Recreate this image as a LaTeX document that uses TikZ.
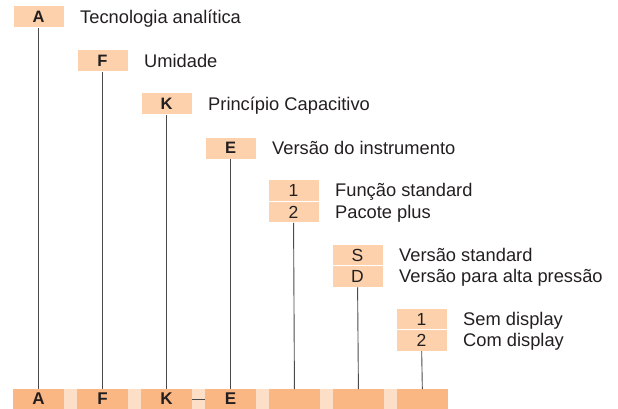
\documentclass[tikz,border=0pt]{standalone}
\usepackage{fontspec}
\setmainfont{Liberation Sans}
\usetikzlibrary{positioning,backgrounds}
\definecolor{peach}{HTML}{FDD1AC}
\definecolor{peachdark}{HTML}{FAB784}
\definecolor{peachgap}{HTML}{FDDFC8}
\definecolor{stem}{HTML}{4A4A4A}
\definecolor{ink}{HTML}{231F20}

\begin{document}
\begin{tikzpicture}[
    x=1pt,y=-1pt,node distance=16pt,
    codebox/.style={rectangle,fill=peach,draw=white,line width=1pt,outer sep=0pt,
      inner sep=0pt,minimum width=51pt,minimum height=22pt,text=ink,
      font=\fontsize{16.5}{18}\selectfont\bfseries},
    optbox/.style={codebox,minimum height=21.5pt,font=\fontsize{17.5}{18}\selectfont},
    slotbox/.style={codebox,draw=none,fill=peachdark,minimum height=20pt,
      font=\fontsize{17}{18}\selectfont\bfseries},
    lbl/.style={anchor=west,inner sep=0pt,text=ink,text height=12.6pt,text depth=0pt,
      font=\fontsize{18.3}{20}\selectfont},
    link/.style={draw=stem,line width=0.9pt}]
    \useasboundingbox (0,0) rectangle (618,409);

    % code letters
    \node[codebox] (A) at (38.5,17) {A};
    \node[lbl] (lA) [right=of A] {Tecnologia analítica};
    \node[codebox] (F) at (102.5,61) {F};
    \node[lbl] (lF) [right=of F] {Umidade};
    \node[codebox] (K) at (166.5,104) {K};
    \node[lbl] (lK) [right=of K] {Princípio Capacitivo};
    \node[codebox] (E) at (230.5,148) {E};
    \node[lbl] (lE) [right=of E] {Versão do instrumento};

    % options
    \node[optbox] (P1) at (293.5,190.5) {1};
    \node[optbox] (P2) [below=0pt of P1] {2};
    \node[lbl] (lP1) [right=of P1] {Função standard};
    \node[lbl] (lP2) [right=of P2] {Pacote plus};
    \node[optbox] (VS) at (357.5,255) {S};
    \node[optbox] (VD) [below=0pt of VS] {D};
    \node[lbl] (lVS) [right=of VS] {Versão standard};
    \node[lbl] (lVD) [right=of VD] {Versão para alta pressão};
    \node[optbox] (D1) at (421.5,319) {1};
    \node[optbox] (D2) [below=0pt of D1] {2};
    \node[lbl] (lD1) [right=of D1] {Sem display};
    \node[lbl] (lD2) [right=of D2] {Com display};

    % order code
    \node[slotbox] (sA) at (38.5,399) {A};
    \node[slotbox] (sF) [right=13pt of sA] {F};
    \node[slotbox] (sK) [right=13pt of sF] {K};
    \node[slotbox] (sE) [right=13pt of sK] {E};
    \node[slotbox] (s5) [right=13pt of sE] {};
    \node[slotbox] (s6) [right=13pt of s5] {};
    \node[slotbox] (s7) [right=13pt of s6] {};
    \begin{scope}[on background layer]
      \fill[peachgap] (sA.north west) rectangle (s7.south east);
    \end{scope}

    \draw[link] (A) -- (sA);
    \draw[link] (F) -- (sF);
    \draw[link] (K) -- (sK);
    \draw[link] (E) -- (sE);
    \draw[link] (P2) -- (s5);
    \draw[link] (VD) -- (s6);
    \draw[link] (D2) -- (s7);
    \draw[link] (sK) -- (sE);
\end{tikzpicture}
\end{document}
